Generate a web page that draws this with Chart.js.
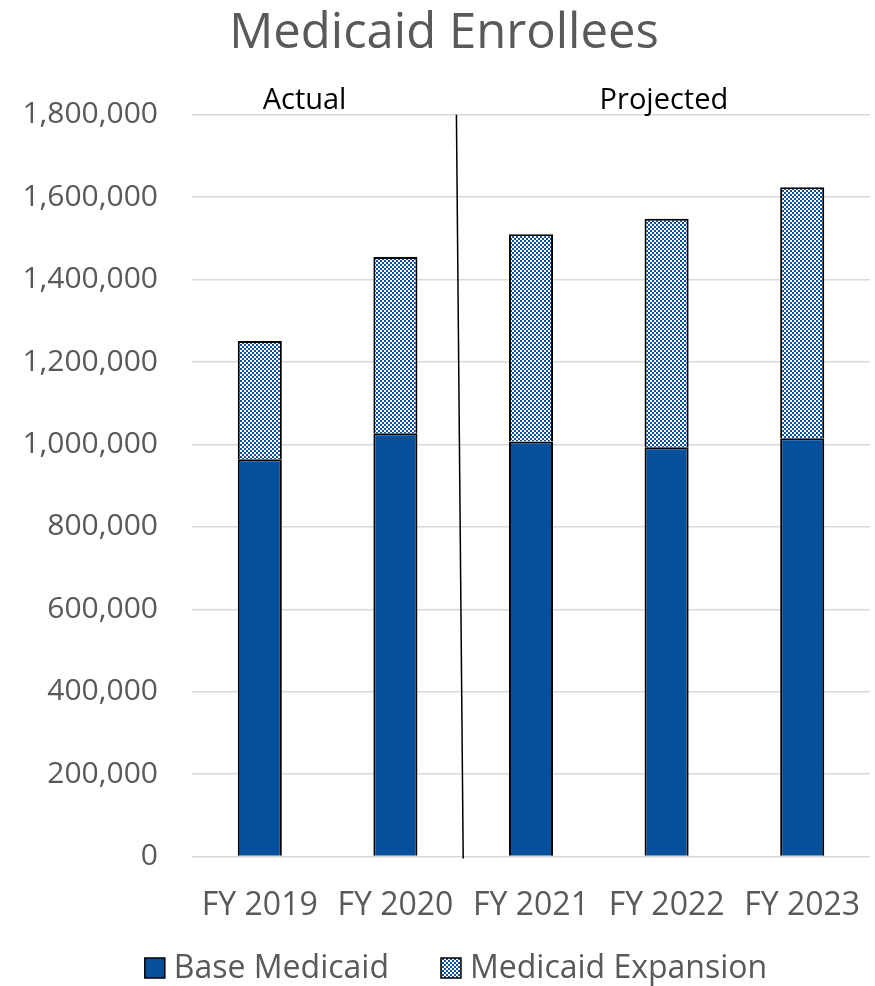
<!DOCTYPE html>
<html>
<head>
<meta charset="utf-8">
<script src="https://cdn.jsdelivr.net/npm/chart.js@4"></script>
<style>
html,body{margin:0;padding:0;background:#fff;}
#wrap{width:875px;height:986px;}
</style>
</head>
<body>
<div id="wrap"><canvas id="c" width="875" height="986"></canvas></div>
<script>
const categories = ["FY 2019", "FY 2020", "FY 2021", "FY 2022", "FY 2023"];
const baseMedicaid = [964000, 1027000, 1007000, 993000, 1015000];
const medicaidExpansion = [287000, 428000, 503000, 555000, 609000];
const yTicks = [0, 200000, 400000, 600000, 800000, 1000000, 1200000, 1400000, 1600000, 1800000];
const periodLabels = ["Actual", "Projected"];

function makePattern() {
  const p = document.createElement('canvas');
  p.width = 4; p.height = 4;
  const g = p.getContext('2d');
  g.fillStyle = '#ffffff'; g.fillRect(0,0,4,4);
  g.fillStyle = '#0a4f9e';
  g.fillRect(0,0,2,2); g.fillRect(2,2,2,2);
  return g.createPattern(p, 'repeat');
}
const pat = makePattern();

const dividerPlugin = {
  id: 'divider',
  afterDatasetsDraw(chart) {
    const {ctx, scales} = chart;
    const x = scales.x;
    const y = scales.y;
    ctx.save();
    ctx.strokeStyle = '#000';
    ctx.lineWidth = 1.5;
    ctx.beginPath();
    ctx.moveTo(x.getPixelForValue(1.45), y.getPixelForValue(1800000));
    ctx.lineTo(x.getPixelForValue(1.5), y.getPixelForValue(0) + 2);
    ctx.stroke();
    ctx.fillStyle = '#000';
    ctx.font = '29px "Open Sans"';
    ctx.textAlign = 'center';
    ctx.textBaseline = 'alphabetic';
    const ty = y.getPixelForValue(1800000) - 6;
    ctx.fillText(periodLabels[0], x.getPixelForValue(0.33), ty);
    ctx.fillText(periodLabels[1], x.getPixelForValue(2.98), ty);
    ctx.restore();
  }
};

const legendPlugin = {
  id: 'customLegend',
  afterDraw(chart) {
    const ctx = chart.ctx;
    const ds = chart.data.datasets;
    ctx.save();
    ctx.font = '32px "Open Sans"';
    const box = 20, gapText = 9, gapItem = 52;
    const widths = ds.map(d => ctx.measureText(d.label).width);
    let total = 0;
    ds.forEach((d, i) => { total += box + gapText + widths[i]; });
    total += gapItem * (ds.length - 1);
    const cy = chart.height - 18;
    let x = (chart.width + 37) / 2 - total / 2;
    ds.forEach((d, i) => {
      ctx.fillStyle = d.backgroundColor;
      ctx.fillRect(x, cy - box / 2, box, box);
      ctx.strokeStyle = '#000';
      ctx.lineWidth = 1.5;
      ctx.strokeRect(x, cy - box / 2, box, box);
      ctx.fillStyle = '#595959';
      ctx.textBaseline = 'middle';
      ctx.textAlign = 'left';
      ctx.fillText(d.label, x + box + gapText, cy + 1);
      x += box + gapText + widths[i] + gapItem;
    });
    ctx.restore();
  }
};

new Chart(document.getElementById('c'), {
  type: 'bar',
  data: {
    labels: categories,
    datasets: [
      { label: 'Base Medicaid', data: baseMedicaid, backgroundColor: '#06509b', borderColor: '#000', borderWidth: 2, categoryPercentage: 1, barPercentage: 0.325 },
      { label: 'Medicaid Expansion', data: medicaidExpansion, backgroundColor: pat, borderColor: '#000', borderWidth: 2, categoryPercentage: 1, barPercentage: 0.325 }
    ]
  },
  options: {
    responsive: false,
    animation: false,
    devicePixelRatio: 1,
    layout: { padding: { left: 18, right: 5, top: 0, bottom: 39 } },
    plugins: {
      title: { display: true, text: 'Medicaid Enrollees', color: '#595959', font: { family: '"Open Sans"', size: 49, weight: 'normal' }, padding: { top: 5, bottom: 51 } },
      legend: { display: false },
      tooltip: { enabled: false }
    },
    scales: {
      x: {
        stacked: true,
        grid: { display: false },
        border: { display: false },
        afterFit(axis) { axis.paddingRight = 0; axis.paddingLeft = 0; },
        ticks: { color: '#595959', font: { family: '"Open Sans"', size: 32 }, padding: 22 }
      },
      y: {
        stacked: true,
        min: 0, max: 1800000,
        afterBuildTicks(axis) { axis.ticks = yTicks.map(v => ({ value: v })); },
        afterFit(axis) { axis.width = 174; },
        grid: { color: '#d9d9d9', lineWidth: 1.5, drawTicks: false },
        border: { display: false },
        ticks: { color: '#595959', font: { family: '"Open Sans"', size: 30 }, padding: 34, callback: v => v.toLocaleString('en-US') }
      }
    }
  },
  plugins: [dividerPlugin, legendPlugin]
});
</script>
</body>
</html>
